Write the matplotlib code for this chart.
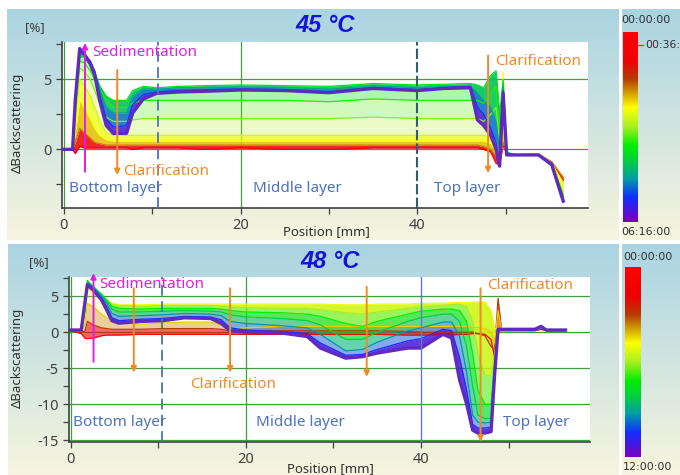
"""
Perfiles de retrodispersión (Turbiscan) a 45 °C y 48 °C.
Cada curva es un perfil a un tiempo dado; el color indica el tiempo.
"""

import numpy as np
import matplotlib
matplotlib.use('Agg')
import matplotlib.pyplot as plt
from matplotlib.colors import LinearSegmentedColormap

plt.rcParams['font.family'] = ['Noto Sans', 'DejaVu Sans']

# ------------------------------------------------------------
# DATOS
# ------------------------------------------------------------
# 45 °C : posición [mm] y perfiles (rojo = inicio, violeta = final)
pos_45 = [0, 1.0, 1.3, 1.8, 2.3, 3.0, 3.5, 4.1, 4.8, 5.6, 7.1, 7.8, 9.0, 10.5,
          13, 16, 20, 25, 30, 35, 40, 43,
          46, 46.8, 47.5, 48.3, 48.9, 49.3, 49.7, 50.1,
          51, 53.7, 55.2, 56.5]
time_45 = [0, 0.3, 0.4, 0.45, 0.52, 0.58, 0.64, 0.76, 0.87, 1.0]
bs_45 = [
    [0, 0, -0.3, 0.2, 0.1, 0.1, 0.1, 0.1, 0.1, 0.1, 0.1, 0.0, 0.1, 0.1,
     0.1, 0.0, 0.1, 0.0, 0.0, 0.1, 0.1, 0.1,
     0.1, 0.1, 0.0, -0.2, -1.0, -1.1, 0.3, -0.3,
     -0.4, -0.4, -0.9, -2.2],
    [0, 0, 0.5, 1.5, 1.2, 0.8, 0.5, 0.4, 0.3, 0.3, 0.3, 0.3, 0.3, 0.3,
     0.3, 0.3, 0.3, 0.3, 0.3, 0.3, 0.3, 0.3,
     0.3, 0.3, 0.2, 0.0, -0.5, -1.0, 0.5, -0.3,
     -0.4, -0.3, -0.9, -2.0],
    [0, 0, 1.2, 3.5, 3.0, 2.2, 1.5, 1.0, 0.7, 0.6, 0.6, 0.6, 0.6, 0.6,
     0.6, 0.6, 0.6, 0.6, 0.6, 0.6, 0.6, 0.6,
     0.6, 0.6, 0.6, 0.4, 0.0, -0.8, 5.5, -0.3,
     -0.4, -0.3, -1.0, -2.4],
    [0, 0, 2.0, 5.0, 4.6, 3.8, 3.0, 2.0, 1.2, 1.0, 1.0, 1.0, 1.0, 1.0,
     1.0, 1.0, 1.0, 1.0, 1.0, 1.0, 1.0, 1.0,
     1.0, 1.0, 1.0, 0.9, 0.5, -0.5, 1.5, -0.3,
     -0.4, -0.4, -1.0, -3.0],
    [0, 0, 2.5, 5.8, 5.6, 5.0, 4.2, 3.2, 2.3, 2.0, 2.0, 2.1, 2.2, 2.2,
     2.2, 2.2, 2.2, 2.2, 2.2, 2.3, 2.2, 2.2,
     2.2, 2.2, 2.0, 2.5, 3.0, 0.5, 3.0, -0.2,
     -0.4, -0.4, -1.0, -3.2],
    [0, 0, 3.0, 6.3, 6.2, 5.6, 5.0, 4.2, 3.5, 3.0, 3.0, 3.3, 3.5, 3.5,
     3.5, 3.5, 3.5, 3.5, 3.4, 3.6, 3.5, 3.5,
     3.5, 3.5, 3.3, 4.0, 4.5, 1.5, 4.0, -0.2,
     -0.4, -0.4, -1.0, -3.3],
    [0, 0, 3.5, 6.6, 6.6, 6.1, 5.5, 4.5, 3.8, 3.5, 3.5, 4.2, 4.5, 4.4,
     4.5, 4.55, 4.6, 4.55, 4.5, 4.7, 4.6, 4.65,
     4.7, 4.6, 4.4, 5.3, 5.6, 2.5, 5.0, -0.2,
     -0.4, -0.4, -1.0, -3.4],
    [0, 0, 3.5, 6.8, 6.8, 6.3, 5.6, 4.2, 3.0, 2.6, 2.6, 3.8, 4.3, 4.3,
     4.4, 4.4, 4.45, 4.4, 4.3, 4.55, 4.4, 4.5,
     4.5, 4.0, 3.5, 3.0, 2.0, 0.0, 4.5, -0.3,
     -0.4, -0.4, -1.0, -3.5],
    [0, 0, 3.5, 7.0, 6.9, 6.3, 5.6, 3.8, 2.2, 1.6, 1.7, 3.2, 3.9, 4.1,
     4.2, 4.25, 4.3, 4.25, 4.1, 4.4, 4.25, 4.4,
     4.5, 3.0, 2.5, 1.5, 0.5, -0.8, 4.2, -0.3,
     -0.4, -0.4, -1.0, -3.5],
    [0, 0, 3.5, 7.2, 6.8, 6.1, 5.3, 3.4, 1.7, 1.14, 1.14, 2.6, 3.6, 4.0,
     4.1, 4.15, 4.24, 4.2, 4.05, 4.35, 4.2, 4.35,
     4.4, 2.1, 1.7, 1.0, 0.0, -1.2, 4.0, -0.4,
     -0.4, -0.4, -1.1, -3.7],
]

# 48 °C
pos_48 = [0, 1.2, 1.6, 1.9, 2.6, 3.5, 4.1, 4.7, 5.5, 8, 10.5, 13, 16, 17.2, 18.2,
          20, 24, 27, 28.5, 31.4, 33.3, 35, 38.5, 40, 42.5,
          43.5, 44.4, 45.2, 45.9, 46.5, 47.3, 48.0, 48.4, 48.8, 49.2,
          51, 53, 53.7, 54.3, 56.5]
time_48 = [0, 0.25, 0.36, 0.42, 0.5, 0.6, 0.68, 0.78, 0.88, 1.0]
bs_48 = [
    [0.2, -0.2, -0.8, -0.9, -0.8, -0.5, -0.4, -0.4, -0.4, -0.3, -0.3, -0.3, -0.3, -0.3, -0.3,
     -0.3, -0.3, -0.3, -0.3, -0.3, -0.3, -0.3, -0.4, -0.4, -0.4,
     -0.4, -0.3, -0.3, -0.2, -0.2, -0.3, -1.0, -3.5, 0.2, 0.2,
     0.2, 0.2, 0.4, 0.2, 0.2],
    [0.3, 0.3, 0.0, 1.5, 1.0, 0.6, 0.5, 0.4, 0.4, 0.4, 0.5, 0.5, 0.5, 0.4, 0.2,
     0.2, 0.2, 0.2, 0.2, 0.2, 0.2, 0.2, 0.1, 0.0, 0.0,
     0.0, 0.0, 0.0, 0.0, -0.2, -0.5, -2.0, -2.5, 4.7, 0.3,
     0.3, 0.3, 0.5, 0.3, 0.3],
    [0.3, 0.3, 1.0, 4.0, 3.5, 2.5, 2.0, 1.6, 1.4, 1.1, 1.3, 1.4, 1.4, 1.0, 0.5,
     0.6, 0.8, 0.8, 0.8, 0.8, 0.8, 0.8, 0.8, 0.8, 0.8,
     0.8, 0.8, 0.8, 0.7, 0.6, 0.5, 0.0, -1.5, 3.0, 0.3,
     0.3, 0.3, 0.6, 0.3, 0.3],
    [0.3, 0.3, 2.5, 6.0, 5.5, 4.8, 4.3, 4.0, 3.8, 3.8, 3.9, 3.9, 3.9, 3.9, 3.9,
     3.9, 3.9, 3.9, 3.9, 3.8, 3.8, 3.9, 3.9, 4.0, 4.0,
     4.1, 4.1, 4.1, 4.2, 4.2, 4.2, 3.0, 0.5, 0.4, 0.4,
     0.4, 0.3, 0.7, 0.3, 0.3],
    [0.3, 0.3, 2.5, 6.5, 6.0, 5.0, 4.5, 3.9, 3.7, 3.6, 3.7, 3.7, 3.7, 3.6, 3.5,
     3.4, 3.3, 3.3, 3.1, 2.7, 2.5, 2.8, 3.3, 3.5, 3.7,
     3.8, 3.9, 3.5, 1.5, -3.0, -6.0, -6.0, -3.0, 0.4, 0.4,
     0.4, 0.3, 0.7, 0.3, 0.3],
    [0.3, 0.3, 3.0, 7.2, 6.3, 5.3, 4.5, 3.6, 3.3, 3.2, 3.3, 3.3, 3.3, 3.2, 3.0,
     2.8, 2.7, 2.5, 2.2, 1.2, 0.8, 1.5, 2.5, 2.9, 3.2,
     3.2, 3.0, 1.5, -3.0, -8.0, -10.0, -10.0, -4.5, 0.4, 0.4,
     0.4, 0.3, 0.7, 0.3, 0.3],
    [0.3, 0.3, 3.0, 7.0, 6.3, 5.2, 4.3, 3.2, 2.8, 2.8, 2.9, 3.0, 2.9, 2.8, 2.4,
     2.1, 1.9, 1.6, 1.0, -1.0, -1.0, 0.0, 1.5, 2.0, 2.5,
     2.5, 1.5, -2.0, -7.5, -11.5, -12.0, -12.0, -5.0, 0.4, 0.4,
     0.4, 0.3, 0.7, 0.3, 0.3],
    [0.3, 0.3, 3.5, 6.8, 6.2, 5.0, 4.0, 2.6, 2.2, 2.3, 2.4, 2.6, 2.5, 2.3, 1.5,
     1.2, 0.9, 0.6, -0.3, -2.6, -2.4, -1.4, 0.2, 0.6, 1.4,
     1.4, -0.5, -5.5, -11.5, -12.5, -12.6, -12.5, -5.0, 0.4, 0.4,
     0.4, 0.3, 0.7, 0.3, 0.3],
    [0.3, 0.3, 4.0, 6.7, 6.0, 4.8, 3.5, 2.0, 1.6, 1.8, 1.9, 2.2, 2.1, 1.7, 0.6,
     0.3, 0.1, -0.2, -1.5, -3.2, -3.1, -2.4, -1.2, -0.9, 0.4,
     0.2, -3.5, -8.0, -12.8, -13.3, -13.3, -13.2, -5.5, 0.4, 0.4,
     0.4, 0.4, 0.8, 0.3, 0.3],
    [0.3, 0.3, 4.0, 6.6, 5.8, 4.5, 3.1, 1.6, 1.25, 1.5, 1.6, 2.0, 1.9, 1.2, 0.2,
     0.0, -0.1, -0.6, -2.2, -3.6, -3.4, -2.9, -2.2, -2.2, -0.3,
     -0.8, -6.6, -9.9, -13.6, -14.0, -14.0, -13.8, -6.0, 0.4, 0.4,
     0.4, 0.4, 0.8, 0.3, 0.3],
]

titles = ['45 °C', '48 °C']
time_labels_45 = ['00:00:00', '06:16:00']
time_labels_48 = ['00:00:00', '12:00:00']
marker_label_45 = '00:36:'
layer_names = ['Bottom layer', 'Middle layer', 'Top layer']

# Colores
cmap_time = LinearSegmentedColormap.from_list('tiempo', [
    (0.0, '#ff0000'), (0.15, '#f00000'), (0.25, '#b83a00'), (0.32, '#d09a00'),
    (0.4, '#ffff00'), (0.5, '#a8f020'), (0.6, '#00ee00'), (0.68, '#00d040'),
    (0.77, '#00a0a0'), (0.87, '#1030ff'), (1.0, '#7a00c0')])
FINAL = '#5e2ac0'
GRID = '#3f9f3f'
LAYER = '#4d72be'
ORANGE = '#f08a24'
MAGENTA = '#e020e0'
bg_cmap = LinearSegmentedColormap.from_list('fondo', ['#aad4e2', '#f7f5de'])


def draw_background(fig, rect):
    """Fondo degradado azul -> crema detrás de cada panel."""
    ax = fig.add_axes(rect, zorder=-10)
    ax.imshow(np.linspace(0, 1, 256).reshape(-1, 1), cmap=bg_cmap,
              aspect='auto', extent=(0, 1, 0, 1))
    ax.axis('off')


def draw_profiles(ax, pos, profiles, times):
    """
    Dibuja el abanico de perfiles coloreados según el tiempo.
    Entre dos perfiles consecutivos se rellena con una opacidad que
    depende de lo juntos que estén (zonas densas = color más intenso).
    """
    pos = np.asarray(pos)
    for i in range(len(profiles) - 1):
        a, b = np.asarray(profiles[i]), np.asarray(profiles[i + 1])
        gap = np.median(np.abs(b - a))
        alpha = float(np.clip(0.3 / max(gap, 1e-3), 0.18, 0.85))
        c = cmap_time((times[i] + times[i + 1]) / 2)
        ax.fill_between(pos, a, b, color=c, alpha=alpha, lw=0, zorder=2)
    for i, (prof, t) in enumerate(zip(profiles, times)):
        last = i == len(profiles) - 1
        ax.plot(pos, prof, color=FINAL if last else cmap_time(t),
                lw=2.4 if last else 0.9, zorder=3 + i)


def style_axes(ax, ylim, yticks, ylabels, yminor):
    ax.set_xlim(-0.2, 59.3)
    ax.set_ylim(*ylim)
    for s in ['top', 'right']:
        ax.spines[s].set_visible(False)
    for s in ['left', 'bottom']:
        ax.spines[s].set_color('#404040')
        ax.spines[s].set_linewidth(1.2)
    ax.set_xticks([0, 20, 40])
    ax.set_xticks([10, 30, 50], minor=True)
    ax.set_yticks(yticks)
    ax.set_yticklabels(ylabels)
    ax.set_yticks(yminor, minor=True)
    ax.tick_params(which='both', colors='#404040', labelsize=10.5,
                   length=4, width=0.9)


def arrow(ax, x, y0, y1, color):
    ax.annotate('', xy=(x, y1), xytext=(x, y0), annotation_clip=False,
                arrowprops=dict(arrowstyle='-|>', color=color, lw=1.4,
                                mutation_scale=8, shrinkA=0, shrinkB=0),
                zorder=20)


def draw_colorbar(fig, rect, labels, label_y, marker=None):
    cax = fig.add_axes(rect)
    cax.imshow(np.linspace(0, 1, 256).reshape(-1, 1), cmap=cmap_time,
               aspect='auto')
    cax.axis('off')
    x0 = rect[0] - 0.003
    for lab, y in zip(labels, label_y):
        fig.text(x0, y, lab, fontsize=8, color='#303030',
                 family='DejaVu Sans', va='center')
    if marker is not None:
        ym = marker[1]
        fig.lines.append(plt.Line2D([rect[0] + rect[2], rect[0] + rect[2] + 0.008],
                                    [ym, ym], color='#ff3030', lw=1,
                                    transform=fig.transFigure))
        fig.text(rect[0] + rect[2] + 0.010, ym, marker[0], fontsize=7.8,
                 color='#303030', family='DejaVu Sans', va='center')


fig = plt.figure(figsize=(6.8, 4.75), dpi=100)

# Fondos
draw_background(fig, [7 / 680, 1 - 240 / 475, 612 / 680, 231 / 475])
draw_background(fig, [622 / 680, 1 - 240 / 475, 58 / 680, 231 / 475])
draw_background(fig, [8 / 680, 0, 611 / 680, 231 / 475])
draw_background(fig, [622 / 680, 0, 58 / 680, 231 / 475])

# ---------------- Panel 45 °C ----------------
ax1 = fig.add_axes([62 / 680, 1 - 208 / 475, 526 / 680, 166.3 / 475])
for y in [0, 5]:
    ax1.axhline(y, color=GRID, lw=0.9, zorder=1)
for x in [0, 20]:
    ax1.axvline(x, color=GRID, lw=0.9, zorder=1)
draw_profiles(ax1, pos_45, bs_45, time_45)
ax1.axvline(10.7, color=LAYER, lw=1.3, ls=(0, (6, 3)), zorder=15)
ax1.axvline(40, color='#2f6070', lw=1.5, ls=(0, (5, 1.5)), zorder=15)
style_axes(ax1, (-4.19, 7.69), [0, 5], ['0', '5'], [-2.5, 2.5, 7.5])

arrow(ax1, 2.4, -1.6, 7.6, MAGENTA)
ax1.text(3.2, 6.95, 'Sedimentation', color=MAGENTA, fontsize=11, va='center', zorder=20)
arrow(ax1, 6.05, 5.66, -1.84, ORANGE)
ax1.text(6.7, -1.6, 'Clarification', color=ORANGE, fontsize=11, va='center', zorder=20)
arrow(ax1, 48.0, 6.7, -1.7, ORANGE)
ax1.text(48.8, 6.25, 'Clarification', color=ORANGE, fontsize=11, va='center', zorder=20)
for x, name in zip([0.6, 21.4, 41.9], layer_names):
    ax1.text(x, -2.8, name, color=LAYER, fontsize=11, va='center', zorder=20)

fig.text(0.478, 0.947, titles[0], color='#1414d8', fontsize=17,
         fontweight='bold', style='italic', ha='center', va='center',
         family='Liberation Sans')
fig.text(0.051, 0.943, '[%]', fontsize=9.5, color='#404040', ha='center', va='center')
fig.text(0.026, 0.741, 'ΔBackscattering', fontsize=9.5, color='#303030',
         rotation=90, ha='center', va='center')
fig.text(326 / 680, 1 - 232 / 475, 'Position [mm]', fontsize=9.5,
         color='#303030', ha='center', va='center')

# ---------------- Panel 48 °C ----------------
ax2 = fig.add_axes([69 / 680, 1 - 442 / 475, 521 / 680, 165.3 / 475])
for y in [5, 0, -5, -10, -15]:
    ax2.axhline(y, color=GRID, lw=0.9, zorder=1)
for x in [0, 20]:
    ax2.axvline(x, color=GRID, lw=0.9, zorder=1)
draw_profiles(ax2, pos_48, bs_48, time_48)
ax2.axvline(10.4, color=LAYER, lw=1.3, ls=(0, (6, 3)), zorder=15)
ax2.axvline(40, color='#5a7fc8', lw=1.0, zorder=15)
style_axes(ax2, (-15.24, 7.7), [5, 0, -5, -10, -15],
           ['5', '0', '-5', '-10', '-15'], [7.5, 2.5, -2.5, -7.5, -12.5])

arrow(ax2, 2.6, -4.1, 8.2, MAGENTA)
ax2.text(3.3, 6.6, 'Sedimentation', color=MAGENTA, fontsize=11, va='center', zorder=20)
for x in [7.2, 18.2]:
    arrow(ax2, x, 6.1, -5.6, ORANGE)
arrow(ax2, 33.8, 6.3, -6.2, ORANGE)
arrow(ax2, 46.8, 6.1, -15.2, ORANGE)
ax2.text(13.6, -7.3, 'Clarification', color=ORANGE, fontsize=11, va='center', zorder=20)
ax2.text(47.6, 6.5, 'Clarification', color=ORANGE, fontsize=11, va='center', zorder=20)
for x, name in zip([0.2, 21.1, 49.4], layer_names):
    ax2.text(x, -12.6, name, color=LAYER, fontsize=11, va='center', zorder=20)

fig.text(0.485, 1 - 262 / 475, titles[1], color='#1414d8', fontsize=17,
         fontweight='bold', style='italic', ha='center', va='center',
         family='Liberation Sans')
fig.text(0.057, 1 - 263 / 475, '[%]', fontsize=9.5, color='#404040', ha='center', va='center')
fig.text(0.026, 1 - 358 / 475, 'ΔBackscattering', fontsize=9.5, color='#303030',
         rotation=90, ha='center', va='center')
fig.text(330 / 680, 1 - 469 / 475, 'Position [mm]', fontsize=9.5,
         color='#303030', ha='center', va='center')

# Barras de tiempo
draw_colorbar(fig, [623 / 680, 1 - 222 / 475, 15 / 680, 190 / 475],
              time_labels_45, [1 - 20 / 475, 1 - 232 / 475],
              marker=(marker_label_45, 1 - 45 / 475))
draw_colorbar(fig, [625 / 680, 1 - 457 / 475, 16 / 680, 190 / 475],
              time_labels_48, [1 - 257 / 475, 1 - 467 / 475])

fig.savefig('out.png', dpi=100)
